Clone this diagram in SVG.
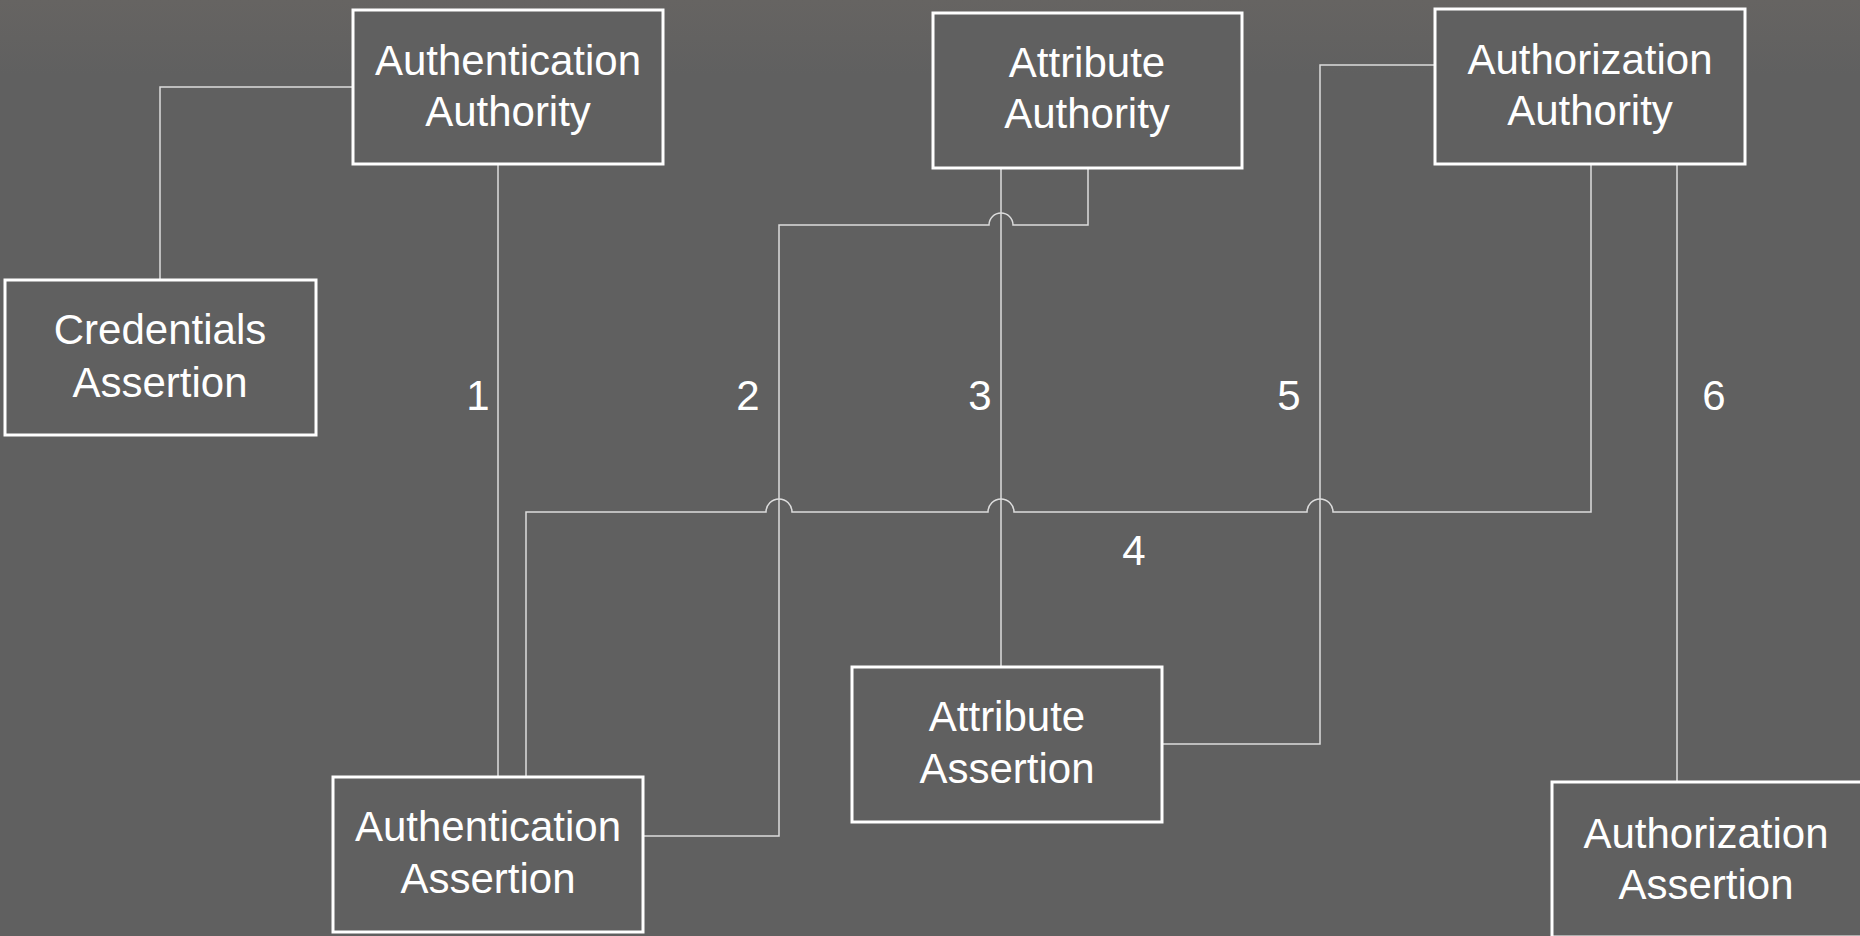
<svg xmlns="http://www.w3.org/2000/svg" width="1860" height="936" viewBox="0 0 1860 936">
  <defs>
    <linearGradient id="bg" x1="0" y1="0" x2="0" y2="1">
      <stop offset="0" stop-color="#666462"/>
      <stop offset="0.08" stop-color="#606060"/>
      <stop offset="1" stop-color="#606060"/>
    </linearGradient>
    <style>
      .box { fill: #606060; stroke: #ffffff; stroke-width: 3; }
      .lbl { font-family: "Liberation Sans", Arial, sans-serif; font-size: 42px; fill: #ffffff; text-anchor: middle; }
      .wire { fill: none; stroke: #dcdcdc; stroke-width: 1.5; }
    </style>
  </defs>

  <rect width="1860" height="936" fill="url(#bg)"/>

  <!-- connectors -->
  <g id="connectors">
    <path class="wire" d="M353 87 H160 V280"/>
    <path class="wire" d="M498 164 V777"/>
    <path class="wire" d="M1088 168 V225 H1013 A12 12 0 0 0 989 225 H779 V836 H643"/>
    <path class="wire" d="M1001 168 V667"/>
    <path class="wire" d="M526 777 V512 H766 A13 13 0 0 1 792 512 H988 A13 13 0 0 1 1014 512 H1307 A13 13 0 0 1 1333 512 H1591 V164"/>
    <path class="wire" d="M1435 65 H1320 V744 H1162"/>
    <path class="wire" d="M1677 164 V782"/>
  </g>

  <!-- connector numbers -->
  <g id="numbers">
    <text class="lbl" x="478" y="410">1</text>
    <text class="lbl" x="748" y="410">2</text>
    <text class="lbl" x="980" y="410">3</text>
    <text class="lbl" x="1134" y="565">4</text>
    <text class="lbl" x="1289" y="410">5</text>
    <text class="lbl" x="1714" y="410">6</text>
  </g>

  <!-- nodes -->
  <g id="authentication-authority">
    <rect class="box" x="353" y="10" width="310" height="154"/>
    <text class="lbl" x="508" y="75">Authentication</text>
    <text class="lbl" x="508" y="126">Authority</text>
  </g>
  <g id="credentials-assertion">
    <rect class="box" x="5" y="280" width="311" height="155"/>
    <text class="lbl" x="160" y="344">Credentials</text>
    <text class="lbl" x="160" y="397">Assertion</text>
  </g>
  <g id="attribute-authority">
    <rect class="box" x="933" y="13" width="309" height="155"/>
    <text class="lbl" x="1087" y="77">Attribute</text>
    <text class="lbl" x="1087" y="128">Authority</text>
  </g>
  <g id="authorization-authority">
    <rect class="box" x="1435" y="9" width="310" height="155"/>
    <text class="lbl" x="1590" y="74">Authorization</text>
    <text class="lbl" x="1590" y="125">Authority</text>
  </g>
  <g id="authentication-assertion">
    <rect class="box" x="333" y="777" width="310" height="155"/>
    <text class="lbl" x="488" y="841">Authentication</text>
    <text class="lbl" x="488" y="893">Assertion</text>
  </g>
  <g id="attribute-assertion">
    <rect class="box" x="852" y="667" width="310" height="155"/>
    <text class="lbl" x="1007" y="731">Attribute</text>
    <text class="lbl" x="1007" y="783">Assertion</text>
  </g>
  <g id="authorization-assertion">
    <rect class="box" x="1552" y="782" width="310" height="155"/>
    <text class="lbl" x="1706" y="848">Authorization</text>
    <text class="lbl" x="1706" y="899">Assertion</text>
  </g>
</svg>
